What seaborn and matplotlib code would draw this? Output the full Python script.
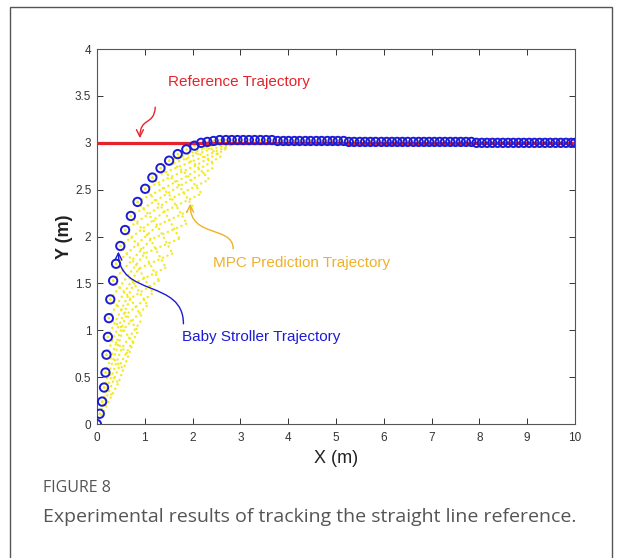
import matplotlib.pyplot as plt
import pandas as pd
import seaborn as sb
from matplotlib.patches import FancyArrowPatch, Rectangle
from matplotlib.path import Path


# stroller positions (m)
stroller_x = [0.00, 0.06, 0.11, 0.15, 0.18, 0.20, 0.23, 0.25, 0.28, 0.34, 0.40, 0.49, 0.59, 0.71, 0.85,
              1.01, 1.16, 1.33, 1.51, 1.69, 1.87, 2.04, 2.18, 2.31,
              2.44, 2.57, 2.70, 2.82, 2.94, 3.06, 3.18, 3.30, 3.42, 3.54, 3.66, 3.78, 3.90,
              4.01, 4.13, 4.24, 4.36, 4.47, 4.59, 4.70, 4.82, 4.93, 5.04, 5.16,
              5.27, 5.38, 5.50, 5.61, 5.72, 5.83, 5.95, 6.06, 6.17, 6.28, 6.39, 6.50, 6.62, 6.73,
              6.84, 6.95, 7.06, 7.17, 7.28, 7.39, 7.50,
              7.61, 7.72, 7.83, 7.94, 8.05, 8.16, 8.27, 8.38, 8.49, 8.60, 8.71, 8.82, 8.93, 9.04,
              9.15, 9.26, 9.37, 9.48, 9.59, 9.70, 9.81, 9.92, 10.00]
stroller_y = [0.00, 0.11, 0.24, 0.39, 0.55, 0.74, 0.93, 1.13, 1.33, 1.53, 1.71, 1.90, 2.07, 2.22, 2.37,
              2.51, 2.63, 2.73, 2.81, 2.88, 2.93, 2.97, 3.00, 3.01,
              3.02, 3.03, 3.03, 3.03, 3.03, 3.03, 3.03, 3.03, 3.03, 3.03, 3.03, 3.02, 3.02,
              3.02, 3.02, 3.02, 3.02, 3.02, 3.02, 3.02, 3.02, 3.02, 3.02, 3.02,
              3.01, 3.01, 3.01, 3.01, 3.01, 3.01, 3.01, 3.01, 3.01, 3.01, 3.01, 3.01, 3.01, 3.01,
              3.01, 3.01, 3.01, 3.01, 3.01, 3.01, 3.01,
              3.01, 3.01, 3.01, 3.00, 3.00, 3.00, 3.00, 3.00, 3.00, 3.00, 3.00, 3.00, 3.00, 3.00,
              3.00, 3.00, 3.00, 3.00, 3.00, 3.00, 3.00, 3.00, 3.00]

# reference line
ref_x = [0.0, 10.0]
ref_y = [3.0, 3.0]

# MPC predicted positions for each time step: from the stroller point down to the
# oldest prediction made for that step (start / bend / end), last one is the flat tail
step_start_x = [0.06, 0.11, 0.15, 0.18, 0.20, 0.23, 0.25, 0.28, 0.34, 0.40, 0.49, 0.59, 0.71,
                0.85, 1.01, 1.16, 1.33, 1.51, 1.69, 1.87, 2.04, 2.18, 2.31, 2.44, 2.57, 2.70]
step_start_y = [0.11, 0.24, 0.39, 0.55, 0.74, 0.93, 1.13, 1.33, 1.53, 1.71, 1.90, 2.07, 2.22,
                2.37, 2.51, 2.63, 2.73, 2.81, 2.88, 2.93, 2.97, 3.00, 3.01, 3.02, 3.03, 3.03]
step_mid_x = [0.08, 0.16, 0.25, 0.32, 0.38, 0.45, 0.52, 0.59, 0.67, 0.75, 0.85, 0.97, 1.10,
              1.24, 1.39, 1.54, 1.70, 1.87, 2.04, 2.20, 2.34, 2.46, 2.57, 2.68, 2.80, 5.00]
step_mid_y = [0.10, 0.21, 0.35, 0.51, 0.68, 0.85, 1.03, 1.19, 1.36, 1.52, 1.68, 1.84, 1.99,
              2.14, 2.29, 2.43, 2.56, 2.67, 2.78, 2.87, 2.94, 2.99, 3.01, 3.02, 3.03, 3.02]
step_end_x = [0.10, 0.21, 0.34, 0.45, 0.55, 0.66, 0.76, 0.86, 0.96, 1.06, 1.17, 1.30, 1.44,
              1.58, 1.73, 1.88, 2.03, 2.19, 2.35, 2.49, 2.61, 2.72, 2.82, 2.92, 3.02, 10.00]
step_end_y = [0.08, 0.17, 0.29, 0.44, 0.59, 0.74, 0.87, 0.99, 1.13, 1.27, 1.40, 1.53, 1.67,
              1.82, 1.98, 2.14, 2.30, 2.46, 2.61, 2.75, 2.86, 2.94, 2.98, 3.00, 3.01, 3.00]

# predicted trajectories made at each stroller step (start / bend / horizon end)
horizon_start_x = [0.00, 0.06, 0.11, 0.15, 0.18, 0.20, 0.23, 0.25, 0.28, 0.34, 0.40, 0.49, 0.59,
                   0.71, 0.85, 1.01, 1.16, 1.33, 1.51]
horizon_start_y = [0.00, 0.11, 0.24, 0.39, 0.55, 0.74, 0.93, 1.13, 1.33, 1.53, 1.71, 1.90, 2.07,
                   2.22, 2.37, 2.51, 2.63, 2.73, 2.81]
horizon_mid_x = [0.45, 0.48, 0.52, 0.55, 0.62, 0.70, 0.78, 0.88, 1.00, 1.13, 1.27, 1.42, 1.57,
                 1.73, 1.90, 2.07, 2.22, 2.36, 2.47]
horizon_mid_y = [0.44, 0.63, 0.81, 1.01, 1.17, 1.34, 1.50, 1.66, 1.82, 1.97, 2.12, 2.27, 2.41,
                 2.54, 2.65, 2.76, 2.85, 2.93, 2.98]
horizon_end_x = [0.76, 0.86, 0.96, 1.06, 1.17, 1.30, 1.44, 1.58, 1.73, 1.88, 2.03, 2.19, 2.35,
                 2.49, 2.61, 2.72, 2.82, 2.92, 3.02]
horizon_end_y = [0.87, 0.99, 1.13, 1.27, 1.40, 1.53, 1.67, 1.82, 1.98, 2.14, 2.30, 2.46, 2.61,
                 2.75, 2.86, 2.94, 2.98, 3.00, 3.01]

RED = "#e6232b"
BLUE = "#1c1cd6"
GOLD = "#eeb12a"
YELLOW = "#f2ea22"


def three_point_frame(sx, sy, mx, my, ex, ey, tag):
    rows = []
    for i in range(len(sx)):
        rows.append({"pred": f"{tag}{i}", "x": sx[i], "y": sy[i]})
        rows.append({"pred": f"{tag}{i}", "x": mx[i], "y": my[i]})
        rows.append({"pred": f"{tag}{i}", "x": ex[i], "y": ey[i]})
    return rows


pred = pd.DataFrame(
    three_point_frame(step_start_x, step_start_y, step_mid_x, step_mid_y, step_end_x, step_end_y, "s")
    + three_point_frame(horizon_start_x, horizon_start_y, horizon_mid_x, horizon_mid_y,
                        horizon_end_x, horizon_end_y, "h")
)
stroller = pd.DataFrame({"x": stroller_x, "y": stroller_y})
ref = pd.DataFrame({"x": ref_x, "y": ref_y})

sb.set_theme(style="white")
plt.rcParams["font.family"] = ["Liberation Sans", "DejaVu Sans"]

fig = plt.figure(figsize=(6.21, 5.58), dpi=100)
ax = fig.add_axes([0.156, 0.240, 0.770, 0.672])

sb.lineplot(data=pred, x="x", y="y", units="pred", estimator=None, sort=False,
            color=YELLOW, lw=1.7, linestyle=(0, (0.1, 2.0)), dash_capstyle="round", ax=ax, zorder=2)
sb.lineplot(data=ref, x="x", y="y", color=RED, lw=2.3, ax=ax, zorder=3)
sb.scatterplot(data=stroller, x="x", y="y", marker="o", s=36, facecolor="none",
               edgecolor=BLUE, linewidth=1.4, ax=ax, zorder=4)

ax.set_xlim(0, 10)
ax.set_ylim(0, 4)
ax.set_xticks(range(0, 11))
ax.set_yticks([0, 0.5, 1, 1.5, 2, 2.5, 3, 3.5, 4])
ax.set_yticklabels(["0", "0.5", "1", "1.5", "2", "2.5", "3", "3.5", "4"])
ax.tick_params(direction="in", length=4, width=0.7, colors="#333333", labelsize=8.5,
               top=True, right=True, bottom=True, left=True)
ax.tick_params(axis="x", pad=6)
ax.tick_params(axis="y", pad=4)
for side in ax.spines.values():
    side.set_color("#555555")
    side.set_linewidth(0.8)
ax.set_xlabel("X (m)", fontsize=13, color="#222222", labelpad=4)
ax.set_ylabel("Y (m)", fontsize=13, color="#222222", labelpad=1, fontweight="bold")


# curved annotation arrows (tail, two bends, head)
def curved_arrow(pts, color):
    path = Path(pts, [Path.MOVETO, Path.CURVE4, Path.CURVE4, Path.CURVE4])
    arrow = FancyArrowPatch(path=path, arrowstyle="->,head_length=0.5,head_width=0.25",
                            mutation_scale=10, color=color, lw=1.0, zorder=5)
    ax.add_patch(arrow)


ax.text(1.49, 3.65, "Reference Trajectory", color=RED, fontsize=11, va="center", ha="left")
curved_arrow([(1.22, 3.38), (1.20, 3.18), (0.90, 3.28), (0.90, 3.05)], RED)

ax.text(2.43, 1.72, "MPC Prediction Trajectory", color=GOLD, fontsize=11, va="center", ha="left")
curved_arrow([(2.85, 1.87), (2.85, 2.12), (1.95, 1.98), (1.95, 2.35)], GOLD)

ax.text(1.78, 0.93, "Baby Stroller Trajectory", color=BLUE, fontsize=11, va="center", ha="left")
curved_arrow([(1.81, 1.07), (1.81, 1.55), (0.45, 1.35), (0.45, 1.84)], BLUE)

# outer frame and caption
fig.patches.append(Rectangle((10 / 621, -0.05), 602 / 621, 1 - 7 / 558 + 0.05,
                             transform=fig.transFigure, fill=False, edgecolor="#555555", lw=1.0))
fig.text(43 / 621, 1 - 488 / 558, "FIGURE 8", fontsize=11.5, color="#555555",
         family=["Open Sans", "DejaVu Sans"], va="center", ha="left")
fig.text(43 / 621, 1 - 517 / 558, "Experimental results of tracking the straight line reference.",
         fontsize=14, color="#555555", family=["Open Sans", "DejaVu Sans"], va="center", ha="left")

plt.savefig("out.png", dpi=100)
plt.clf()
